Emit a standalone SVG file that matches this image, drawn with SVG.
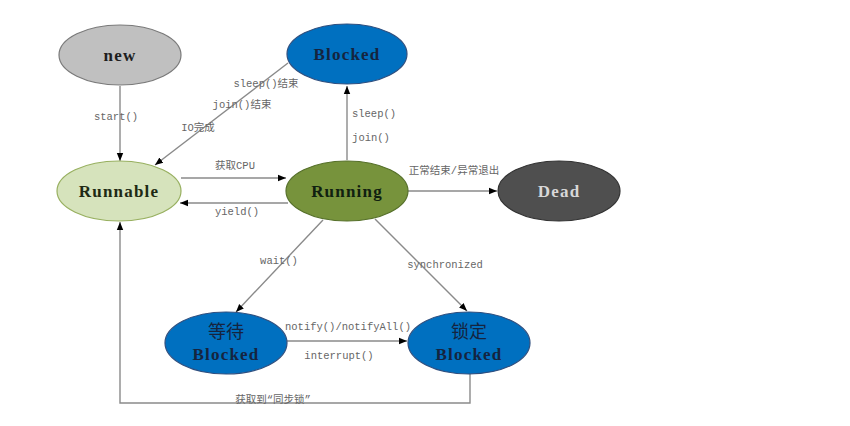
<svg xmlns="http://www.w3.org/2000/svg" width="850" height="426" viewBox="0 0 850 426">
<defs>
<marker id="arr" viewBox="0 0 10 10" refX="10" refY="5" markerWidth="8" markerHeight="8" markerUnits="userSpaceOnUse" orient="auto">
<path d="M0,1 L10,5 L0,9 z" fill="#000"/>
</marker>
<style>
.edge{fill:none;stroke:#8a8a8a;stroke-width:1.4;marker-end:url(#arr)}
.nt{font-family:"Liberation Serif","Noto Sans CJK SC",serif;font-size:17px;font-weight:bold;letter-spacing:1.2px;text-anchor:middle;dominant-baseline:central}
.cj{font-family:"Noto Sans CJK SC",sans-serif;font-size:18px;font-weight:normal;letter-spacing:0}
.lb{font-family:"Liberation Mono","Noto Sans CJK SC",monospace;font-size:10.5px;fill:#666;text-anchor:middle;dominant-baseline:central}
.blue{fill:#0070c0;stroke:#2f4f7f;stroke-width:1.2}
</style>
</defs>
<rect width="850" height="426" fill="#fff"/>
<g id="connectors">
<line class="edge" x1="120" y1="86" x2="120" y2="161"/>
<line class="edge" x1="288" y1="63" x2="155" y2="165"/>
<line class="edge" x1="347" y1="160" x2="347" y2="86"/>
<line class="edge" x1="181" y1="178" x2="286" y2="178"/>
<line class="edge" x1="288" y1="203" x2="180" y2="203"/>
<line class="edge" x1="408" y1="191" x2="497" y2="191"/>
<line class="edge" x1="323" y1="220" x2="236" y2="312"/>
<line class="edge" x1="375" y1="219" x2="467" y2="311"/>
<line class="edge" x1="287" y1="341" x2="407" y2="341"/>
<polyline class="edge" points="470,374 470,403 120,403 120,222"/>
<text class="lb" x="116" y="117">start()</text>
<text class="lb" x="266" y="84">sleep()结束</text>
<text class="lb" x="242" y="105">join()结束</text>
<text class="lb" x="198" y="128">IO完成</text>
<text class="lb" x="235" y="166">获取CPU</text>
<text class="lb" x="237" y="212">yield()</text>
<text class="lb" x="374" y="114">sleep()</text>
<text class="lb" x="371" y="138">join()</text>
<text class="lb" x="454" y="171">正常结束/异常退出</text>
<text class="lb" x="279" y="261">wait()</text>
<text class="lb" x="445" y="265">synchronized</text>
<text class="lb" x="348" y="327">notify()/notifyAll()</text>
<text class="lb" x="339" y="356">interrupt()</text>
<text class="lb" x="273" y="400">获取到“同步锁”</text>
</g>
<g id="new">
<ellipse cx="120" cy="55" rx="61" ry="30" fill="#c0c0c0" stroke="#7a7a7a" stroke-width="1.2"/>
<text class="nt" x="120" y="55" fill="#1e1e1e">new</text>
</g>
<g id="blocked">
<ellipse class="blue" cx="347" cy="54" rx="60" ry="30"/>
<text class="nt" x="347" y="54" fill="#15243f">Blocked</text>
</g>
<g id="runnable">
<ellipse cx="119" cy="191" rx="62" ry="30" fill="#d6e3bc" stroke="#98b060" stroke-width="1.2"/>
<text class="nt" x="119" y="191" fill="#1e2a14">Runnable</text>
</g>
<g id="running">
<ellipse cx="347" cy="191" rx="61" ry="30" fill="#77933c" stroke="#56702a" stroke-width="1.2"/>
<text class="nt" x="347" y="191" fill="#102010">Running</text>
</g>
<g id="dead">
<ellipse cx="559" cy="191" rx="61" ry="30" fill="#4f4f4f" stroke="#333" stroke-width="1.2"/>
<text class="nt" x="559" y="191" fill="#d8d8d8">Dead</text>
</g>
<g id="waiting">
<ellipse class="blue" cx="226" cy="343" rx="61" ry="31"/>
<text class="nt cj" x="226" y="330" fill="#15243f">等待</text>
<text class="nt" x="226" y="354" fill="#15243f">Blocked</text>
</g>
<g id="locked">
<ellipse class="blue" cx="469" cy="343" rx="61" ry="31"/>
<text class="nt cj" x="469" y="330" fill="#15243f">锁定</text>
<text class="nt" x="469" y="354" fill="#15243f">Blocked</text>
</g>
</svg>
